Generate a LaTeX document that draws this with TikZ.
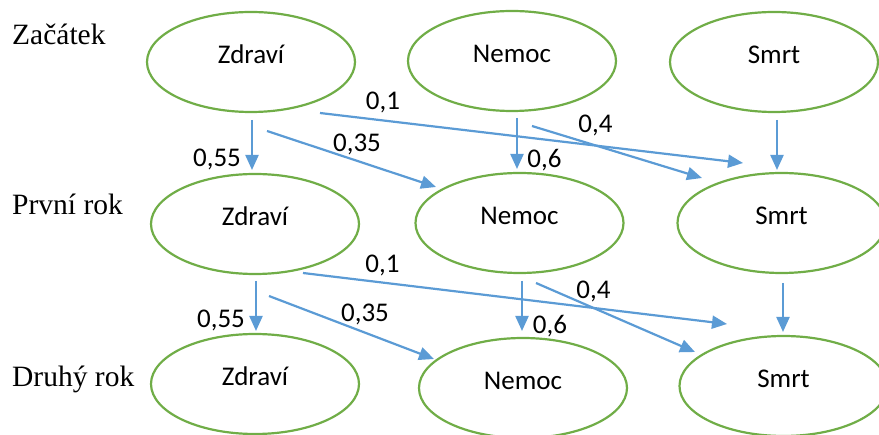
\documentclass[tikz,border=0pt]{standalone}
\usepackage{fontspec}
\setmainfont{Liberation Serif}
\newfontfamily\calfont{Carlito}
\usetikzlibrary{shapes.geometric,arrows.meta}
\definecolor{ellgreen}{HTML}{70AD47}
\definecolor{arrblue}{HTML}{5B9BD5}
\newcommand\stxt[1]{\raisebox{-2pt}[0pt][0pt]{#1}}
\begin{document}
\begin{tikzpicture}[x=1pt,y=-1pt,
  state/.style={ellipse, draw=ellgreen, line width=2.2pt, minimum width=208pt, minimum height=100pt,
    inner sep=0pt, text height=0pt, text depth=0pt, font=\calfont\fontsize{27}{30}\selectfont},
  rowlabel/.style={anchor=base west, inner sep=0pt, font=\fontsize{29.5}{33}\selectfont},
  prob/.style={anchor=base, inner sep=0pt, font=\calfont\fontsize{27}{30}\selectfont},
  trans/.style={draw=arrblue, line width=2.2pt, -{Triangle[length=15pt,width=13pt]}}]
\useasboundingbox (0,0) rectangle (879,435);

% row labels
\node[rowlabel] (lab1) at (12,45) {Začátek};
\node[rowlabel] (lab2) at (12,215) {První rok};
\node[rowlabel] (lab3) at (12,387) {Druhý rok};

% states
\node[state] (z1) at (251,62) {\stxt{Zdraví}};
\node[state] (n1) at (512,61) {\stxt{Nemoc}};
\node[state] (s1) at (774,62) {\stxt{Smrt}};
\node[state] (z2) at (255,224) {\stxt{Zdraví}};
\node[state] (n2) at (519.5,223) {\stxt{Nemoc}};
\node[state] (s2) at (781.5,223) {\stxt{Smrt}};
\node[state] (z3) at (255,384) {\stxt{Zdraví}};
\node[state] (n3) at (523,388) {\stxt{Nemoc}};
\node[state] (s3) at (783.5,386) {\stxt{Smrt}};

% connector end points, first step
\coordinate (z1a) at (252,120);  \coordinate (z2a) at (252,170);
\coordinate (z1b) at (267,131);  \coordinate (n2a) at (436,187);
\coordinate (z1c) at (320,113);  \coordinate (s2a) at (743,163);
\coordinate (n1a) at (517,118);  \coordinate (n2b) at (517,169);
\coordinate (n1b) at (532,126);  \coordinate (s2b) at (702,178);
\coordinate (s1a) at (777,120);  \coordinate (s2c) at (777,170);

% connector end points, second step
\coordinate (z2b) at (256,281);  \coordinate (z3a) at (256,331);
\coordinate (z2c) at (269,296);  \coordinate (n3a) at (434,359);
\coordinate (z2d) at (303,273);  \coordinate (s3a) at (727,324);
\coordinate (n2c) at (522,281);  \coordinate (n3b) at (522,331);
\coordinate (n2d) at (536,283);  \coordinate (s3b) at (695,352);
\coordinate (s2d) at (783,283);  \coordinate (s3c) at (783,332);

\draw[trans] (z1a) -- (z2a);
\draw[trans] (z1b) -- (n2a);
\draw[trans] (z1c) -- (s2a);
\draw[trans] (n1a) -- (n2b);
\draw[trans] (n1b) -- (s2b);
\draw[trans] (s1a) -- (s2c);

\draw[trans] (z2b) -- (z3a);
\draw[trans] (z2c) -- (n3a);
\draw[trans] (z2d) -- (s3a);
\draw[trans] (n2c) -- (n3b);
\draw[trans] (n2d) -- (s3b);
\draw[trans] (s2d) -- (s3c);

% probabilities
\node[prob] (p1a) at (217,167) {0,55};
\node[prob] (p1b) at (357,152) {0,35};
\node[prob] (p1c) at (383,110) {0,1};
\node[prob] (p1d) at (544.5,168) {0,6};
\node[prob] (p1e) at (595.5,133) {0,4};

\node[prob] (p2a) at (221,328) {0,55};
\node[prob] (p2b) at (365,322) {0,35};
\node[prob] (p2c) at (382.5,273) {0,1};
\node[prob] (p2d) at (550,334) {0,6};
\node[prob] (p2e) at (593.5,299) {0,4};
\end{tikzpicture}
\end{document}
